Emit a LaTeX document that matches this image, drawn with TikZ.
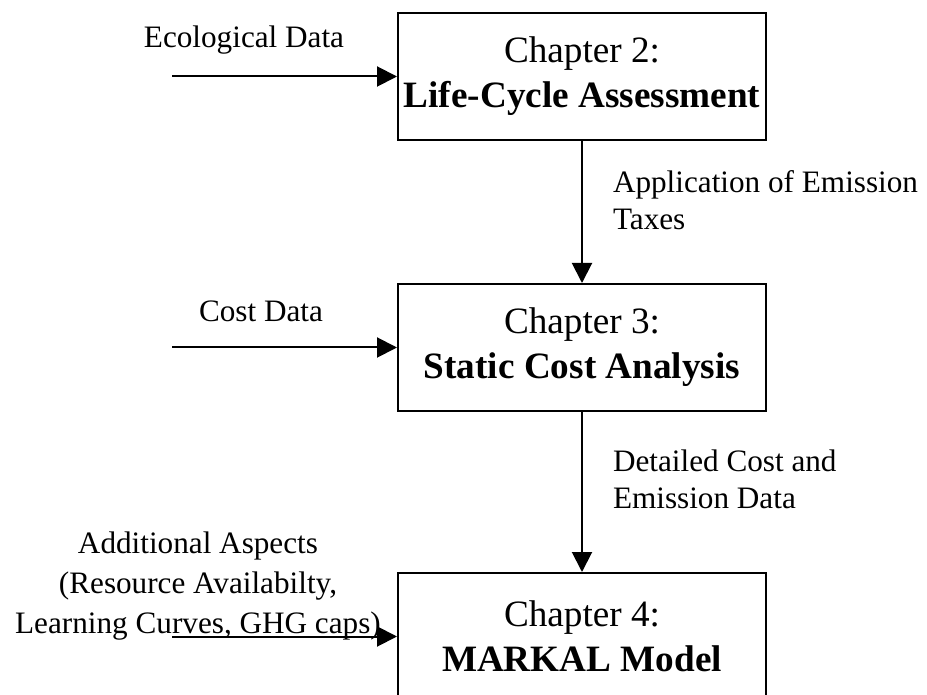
\documentclass[tikz,border=0pt]{standalone}
\usepackage{fontspec}
\setmainfont{Liberation Serif}
\usepackage{tikz}
\usetikzlibrary{positioning,arrows.meta}

\begin{document}
\begin{tikzpicture}[
  every node/.style={align=center},
  chap/.style={draw, line width=1pt, minimum width=184pt, minimum height=63.5pt, inner sep=0pt, font=\fontsize{18.6pt}{22.5pt}\selectfont},
  lbl/.style={inner sep=0pt, font=\fontsize{15.6pt}{18.5pt}\selectfont},
  flow/.style={-{Triangle[length=10pt,width=10pt]}, line width=1pt}
]
\path[use as bounding box, clip] (0,0) rectangle (463.5pt,-347.5pt);

\node[chap] (lca) at (291pt,-38.25pt) {Chapter 2:\\\textbf{Life-Cycle Assessment}};
\node[chap, below=71pt of lca] (cost) {Chapter 3:\\\textbf{Static Cost Analysis}};
\node[chap, below=80pt of cost] (markal) {Chapter 4:\\\textbf{MARKAL Model}};

\coordinate[left=112.5pt of lca.west] (ecoin);
\coordinate[left=112.5pt of cost.west] (costin);
\coordinate[left=112.5pt of markal.west] (addin);

\node[lbl] (ecolbl) at ([xshift=36pt,yshift=18pt]ecoin) {Ecological Data};
\node[lbl] (costlbl) at ([xshift=44.5pt,yshift=18pt]costin) {Cost Data};
\node[lbl, font=\fontsize{15.6pt}{20pt}\selectfont] (addlbl) at ([xshift=13pt,yshift=25pt]addin) {Additional Aspects\\(Resource Availabilty,\\Learning Curves, GHG caps)};

\draw[flow] (ecoin) -- (lca.west);
\draw[flow] (costin) -- (cost.west);
\draw[flow] (addin) -- (markal.west);

\draw[flow] (lca) -- node[lbl, pos=.42, right=15pt, align=left] (taxlbl) {Application of Emission\\Taxes} (cost);
\draw[flow] (cost) -- node[lbl, pos=.42, right=15pt, align=left] (datalbl) {Detailed Cost and\\Emission Data} (markal);
\end{tikzpicture}
\end{document}
